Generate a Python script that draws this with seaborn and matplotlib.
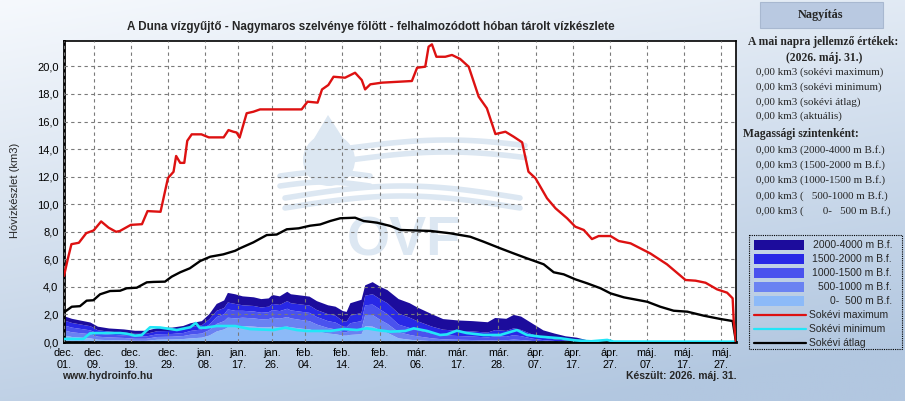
import numpy as np
import matplotlib
matplotlib.use('Agg')
import matplotlib.pyplot as plt
import matplotlib.patches as mpatches
import seaborn as sns

# --- data (days counted from Dec 01) ---
tick_days = [0, 8, 18, 28, 38, 47, 56, 65, 75, 85, 95, 106, 117, 127, 137, 147, 157, 167, 177]
tick_labels = ['dec.\n01.', 'dec.\n09.', 'dec.\n19.', 'dec.\n29.', 'jan.\n08.', 'jan.\n17.',
               'jan.\n26.', 'feb.\n04.', 'feb.\n14.', 'feb.\n24.', 'már.\n06.', 'már.\n17.',
               'már.\n28.', 'ápr.\n07.', 'ápr.\n17.', 'ápr.\n27.', 'máj.\n07.', 'máj.\n17.',
               'máj.\n27.']

max_days = [0, 1, 2, 4, 6, 8, 10, 12, 14, 15, 18, 21, 22.5, 26, 28, 29.5, 30.2, 31.3, 32.4,
            33.2, 34.4, 37, 39, 43, 44.3, 45.6, 46.5, 47.3, 49.2, 51, 52.8, 64, 65.6, 68.3,
            69.5, 71.2, 72.6, 75.7, 78.4, 80.2, 81.1, 82.5, 85.6, 93.7, 95.1, 97.3, 98.2, 99.1,
            100.3, 102.7, 104.5, 106.7, 109, 111.7, 113.9, 116.2, 118.9, 121.1, 123.4, 125.1,
            127, 130.1, 132.4, 135.5, 137.7, 140, 142.2, 144, 147.2, 149.4, 152.6, 157.9,
            162.4, 167.4, 170.1, 172.8, 175.9, 178.6, 180.1, 180.4, 181]
max_vals = [4.8, 6.0, 7.1, 7.2, 7.9, 8.1, 8.75, 8.3, 8.0, 8.05, 8.5, 8.55, 9.5, 9.45, 11.9,
            12.35, 13.5, 13.0, 13.0, 14.6, 15.07, 15.07, 14.85, 14.85, 15.38, 15.26, 15.2,
            14.83, 16.6, 16.71, 16.88, 16.88, 17.44, 17.37, 18.33, 18.65, 19.25, 19.18, 19.54,
            19.01, 18.33, 18.7, 18.82, 18.94, 19.9, 19.98, 21.43, 21.6, 20.7, 20.7, 20.83,
            20.54, 19.98, 17.8, 16.96, 15.09, 15.26, 14.9, 14.49, 12.36, 11.88, 10.43, 9.7,
            8.98, 8.37, 8.13, 7.47, 7.69, 7.69, 7.33, 7.16, 6.43, 5.64, 4.5, 4.45, 4.3, 3.82,
            3.58, 3.17, 1.47, 0.0]

avg_days = [0, 2.1, 4.3, 6.1, 7.9, 9.7, 12.4, 15.1, 16.9, 19.6, 22.3, 24.1, 27.2, 29, 31.3,
            33.9, 36.7, 39.4, 42.9, 46.1, 47.4, 51, 54.6, 57.3, 60, 63.2, 66.3, 69, 71.7, 74.4,
            78.4, 80.7, 84.3, 87.9, 90.6, 98.7, 104, 109.4, 113, 117.5, 121.1, 124.7, 129.2,
            131.9, 134.6, 137.7, 140.9, 144.5, 147.2, 150.8, 157.1, 160.6, 164.2, 167.9,
            172.3, 176.8, 180.1, 181]
avg_vals = [2.15, 2.56, 2.6, 3.0, 3.03, 3.46, 3.7, 3.72, 3.9, 3.94, 4.33, 4.36, 4.38, 4.74,
            5.06, 5.35, 5.88, 6.19, 6.36, 6.62, 6.8, 7.23, 7.76, 7.8, 8.18, 8.25, 8.44, 8.53,
            8.78, 8.98, 9.02, 8.78, 8.66, 8.42, 8.13, 8.06, 7.89, 7.64, 7.28, 6.8, 6.43, 6.07,
            5.64, 5.06, 4.91, 4.55, 4.26, 3.9, 3.53, 3.24, 2.92, 2.56, 2.27, 2.2, 1.91, 1.67,
            1.52, 0.0]

min_days = [0, 5.2, 7, 8.8, 15.1, 16.9, 19.1, 20.9, 23.2, 25.9, 30.4, 34, 35.5, 36.5, 38.2,
            41.1, 46.1, 50.1, 56.4, 59.6, 62.7, 65.4, 71.7, 75.3, 78.9, 81.6, 84.3, 87.9, 91.9,
            94.2, 97.8, 101.3, 103.1, 105.8, 108.5, 113, 117.5, 122, 124.7, 128.2, 133.7,
            137.7, 142, 146.3, 148, 181]
min_vals = [0.22, 0.22, 0.63, 0.65, 0.65, 0.6, 0.46, 0.5, 1.07, 1.05, 0.87, 1.07, 1.38, 1.04,
            1.04, 1.16, 1.16, 0.94, 0.87, 1.04, 0.87, 0.8, 0.8, 0.94, 0.87, 0.99, 0.87, 0.75,
            0.8, 0.99, 0.8, 0.51, 0.55, 0.82, 0.65, 0.51, 0.51, 0.87, 0.51, 0.39, 0.27, 0.12,
            0.05, 0.15, 0.03, 0.02]

# current season, by altitude band (km3)
area_days = [0, 2, 7, 9, 12, 16, 19, 22, 25, 29, 32, 34, 37, 39, 41, 43, 44, 46, 48, 51, 53,
             55, 56, 58, 60, 61, 64, 66, 68, 71, 73, 75, 76, 77, 80, 81, 83, 85, 87, 90, 93, 95,
             99, 102, 106, 110, 114, 116, 119, 121, 123, 126, 129, 132, 135, 138, 141, 145,
             150, 181]
band_0_500 = [0.5, 0.4, 0.3, 0.2, 0.17, 0.15, 0.12, 0.12, 0.2, 0.22, 0.25, 0.3, 0.35, 0.5,
              0.8, 0.95, 1.1, 1.1, 1.2, 1.15, 1.1, 1.1, 1.15, 1.1, 1.15, 1.1, 1.0, 0.95, 0.8,
              0.65, 0.6, 0.5, 0.5, 0.55, 0.6, 1.2, 1.15, 0.9, 0.7, 0.3, 0.2, 0.15, 0.1, 0.08,
              0.07, 0.06, 0.05, 0.05, 0.05, 0.06, 0.05, 0.03, 0.02, 0.01, 0.01, 0.0, 0.0, 0.0,
              0.0, 0.0]
band_500_1000 = [0.37, 0.34, 0.3, 0.22, 0.2, 0.18, 0.15, 0.15, 0.2, 0.2, 0.22, 0.27, 0.3, 0.4,
                 0.55, 0.6, 0.7, 0.65, 0.6, 0.6, 0.58, 0.6, 0.65, 0.63, 0.7, 0.65, 0.62, 0.6,
                 0.5, 0.4, 0.35, 0.25, 0.25, 0.35, 0.4, 0.8, 0.85, 0.75, 0.65, 0.45, 0.35, 0.3,
                 0.2, 0.15, 0.13, 0.12, 0.1, 0.12, 0.12, 0.15, 0.13, 0.08, 0.05, 0.03, 0.02,
                 0.01, 0.0, 0.0, 0.0, 0.0]
band_1000_1500 = [0.36, 0.34, 0.28, 0.22, 0.2, 0.18, 0.17, 0.17, 0.2, 0.2, 0.22, 0.27, 0.3,
                  0.4, 0.5, 0.5, 0.6, 0.55, 0.5, 0.5, 0.48, 0.5, 0.55, 0.55, 0.6, 0.58, 0.6,
                  0.6, 0.55, 0.5, 0.5, 0.4, 0.38, 0.5, 0.55, 0.7, 0.75, 0.75, 0.7, 0.55, 0.5,
                  0.45, 0.35, 0.3, 0.27, 0.25, 0.22, 0.28, 0.25, 0.32, 0.28, 0.17, 0.1, 0.07,
                  0.04, 0.03, 0.01, 0.0, 0.0, 0.0]
band_1500_2000 = [0.36, 0.34, 0.3, 0.25, 0.22, 0.2, 0.19, 0.19, 0.22, 0.22, 0.24, 0.28, 0.3,
                  0.38, 0.45, 0.45, 0.5, 0.5, 0.4, 0.4, 0.38, 0.4, 0.45, 0.45, 0.55, 0.52,
                  0.53, 0.53, 0.5, 0.5, 0.5, 0.4, 0.38, 0.55, 0.6, 0.7, 0.75, 0.75, 0.8, 0.8,
                  0.75, 0.65, 0.5, 0.4, 0.38, 0.37, 0.35, 0.45, 0.42, 0.5, 0.45, 0.3, 0.18,
                  0.12, 0.08, 0.06, 0.03, 0.01, 0.0, 0.0]
band_2000_4000 = [0.31, 0.3, 0.27, 0.26, 0.23, 0.24, 0.22, 0.22, 0.23, 0.24, 0.27, 0.28, 0.3,
                  0.37, 0.5, 0.55, 0.7, 0.7, 0.65, 0.63, 0.61, 0.6, 0.65, 0.62, 0.68, 0.65,
                  0.65, 0.65, 0.65, 0.65, 0.65, 0.73, 0.71, 0.9, 0.95, 0.75, 0.88, 0.9, 0.95,
                  1.05, 1.05, 1.0, 0.9, 0.77, 0.75, 0.75, 0.75, 0.88, 0.88, 0.97, 0.97, 0.8,
                  0.53, 0.42, 0.3, 0.25, 0.11, 0.04, 0.02, 0.0]

band_names = ['0-  500 m B.f.', '500-1000 m B.f.', '1000-1500 m B.f.', '1500-2000 m B.f.',
              '2000-4000 m B.f.']
band_colors = ['#8cbaf8', '#6a82f2', '#4a52ee', '#2828e6', '#1c0c9c']

W, H = 905, 401

sns.set_theme(style='white')
plt.rcParams['font.family'] = ['Liberation Sans', 'DejaVu Sans']

fig = plt.figure(figsize=(W / 100, H / 100), dpi=100)

# background gradient + watermark (pixel coordinates)
bg = fig.add_axes([0, 0, 1, 1], zorder=0)
bg.set_xlim(0, W)
bg.set_ylim(H, 0)
bg.axis('off')
yy, xx = np.mgrid[0:1:200j, 0:1:200j]
t = np.clip(0.8 * yy + 0.3 * xx, 0, 1)
c0 = np.array([246, 249, 253]) / 255
c1 = np.array([178, 199, 224]) / 255
grad = c0[None, None, :] * (1 - t[..., None]) + c1[None, None, :] * t[..., None]
bg.imshow(grad, extent=[0, W, H, 0], aspect='auto', zorder=0)
bg.add_patch(mpatches.Rectangle((64, 40.5), 672, 301.5, facecolor='white', edgecolor='none', zorder=1))

wm = '#dce7f2'
bg.add_patch(mpatches.Circle((329, 160), 26, facecolor=wm, edgecolor='none', zorder=2))
bg.add_patch(mpatches.Polygon([(328, 115), (306, 152), (352, 152)], closed=True,
                              facecolor=wm, edgecolor='none', zorder=2))
# upper waves (right of the drop), lower waves (under it)
wx1 = np.linspace(350, 525, 80)
for y0 in [148, 160]:
    bg.plot(wx1, y0 - 8 * np.sin((wx1 - 350) / 175 * np.pi * 0.9), color=wm, lw=4,
            solid_capstyle='round', zorder=2)
wx2 = np.linspace(280, 370, 40)
for y0 in [176, 186]:
    bg.plot(wx2, y0 - 4 * np.sin((wx2 - 280) / 90 * np.pi), color=wm, lw=4,
            solid_capstyle='round', zorder=2)
wx3 = np.linspace(285, 520, 90)
for y0 in [198, 208]:
    bg.plot(wx3, y0 - 12 * np.sin((wx3 - 285) / 235 * np.pi), color=wm, lw=4,
            solid_capstyle='round', zorder=2)
bg.text(404, 241, 'OVF', ha='center', va='center', fontsize=40, fontweight='bold', color=wm, zorder=3)

# main chart
ax = fig.add_axes([64 / W, (H - 342) / H, 672 / W, 301.5 / H], zorder=1)
ax.set_facecolor('none')

ax.stackplot(area_days, band_0_500, band_500_1000, band_1000_1500, band_1500_2000,
             band_2000_4000, colors=band_colors, linewidth=0, zorder=2)
sns.lineplot(x=min_days, y=min_vals, ax=ax, color='#22e6f8', lw=1.9, zorder=3)
sns.lineplot(x=avg_days, y=avg_vals, ax=ax, color='black', lw=1.7, zorder=4)
sns.lineplot(x=max_days, y=max_vals, ax=ax, color='#dd1111', lw=1.7, zorder=5)

ax.set_xlim(0, 181)
ax.set_ylim(0, 21.88)
ax.set_xticks(tick_days)
ax.set_xticklabels(tick_labels, fontsize=7.8, linespacing=1.3)
ax.set_yticks(np.arange(0, 21, 2))
ax.set_yticklabels([f'{v:.1f}'.replace('.', ',') for v in np.arange(0, 21, 2)], fontsize=8)
ax.tick_params(axis='both', direction='out', length=3, width=1, pad=1, colors='black',
               labelcolor='black')
ax.grid(True, color='#7a7a7a', linestyle=(0, (3, 3)), linewidth=0.8)
ax.set_axisbelow(False)
for side in ['left', 'bottom']:
    ax.spines[side].set_linewidth(2)
for side in ['top', 'right']:
    ax.spines[side].set_linewidth(1.2)
for s in ax.spines.values():
    s.set_color('black')
ax.set_xlabel('')
ax.set_ylabel('')

fig.text(371 / W, 1 - 27 / H, 'A Duna vízgyűjtő - Nagymaros szelvénye fölött - felhalmozódott hóban tárolt vízkészlete',
         ha='center', va='center', fontsize=8.4, fontweight='bold')
fig.text(15 / W, 1 - 190 / H, 'Hóvízkészlet (km3)', rotation=90, ha='center', va='center', fontsize=8)
fig.text(62 / W, 1 - 376 / H, 'www.hydroinfo.hu', ha='left', va='center', fontsize=7.5, fontweight='bold')
fig.text(737 / W, 1 - 376 / H, 'Készült: 2026. máj. 31.', ha='right', va='center', fontsize=7.5,
         fontweight='bold')

# right panel
ov = fig.add_axes([0, 0, 1, 1], zorder=2)
ov.set_xlim(0, W)
ov.set_ylim(H, 0)
ov.axis('off')
ov.patch.set_alpha(0)

ov.add_patch(mpatches.Rectangle((760, 2), 123, 26, facecolor='#b9c9e1', edgecolor='#a8b8d0', lw=0.8))
serif = ['Liberation Serif', 'DejaVu Serif']
ov.text(821, 15, 'Nagyítás', ha='center', va='center', fontsize=8.8, fontweight='bold', family=serif)
ov.text(823, 42, 'A mai napra jellemző értékek:', ha='center', va='center', fontsize=8.4,
        fontweight='bold', family=serif)
ov.text(824, 57.5, '(2026. máj. 31.)', ha='center', va='center', fontsize=8.4, fontweight='bold', family=serif)
rows1 = ['0,00 km3 (sokévi maximum)', '0,00 km3 (sokévi minimum)', '0,00 km3 (sokévi átlag)',
         '0,00 km3 (aktuális)']
for i, r in enumerate(rows1):
    ov.text(756, 72.5 + i * 14.7, r, ha='left', va='center', fontsize=7.9, family=serif)
ov.text(743, 134, 'Magassági szintenként:', ha='left', va='center', fontsize=8.4, fontweight='bold', family=serif)
rows2 = ['0,00 km3 (2000-4000 m B.f.)', '0,00 km3 (1500-2000 m B.f.)', '0,00 km3 (1000-1500 m B.f.)',
         '0,00 km3 (   500-1000 m B.f.)', '0,00 km3 (       0-   500 m B.f.)']
for i, r in enumerate(rows2):
    ov.text(756, 150 + i * 15.2, r, ha='left', va='center', fontsize=7.9, family=serif)

# legend box
ov.add_patch(mpatches.Rectangle((749, 235), 153, 114, facecolor='none', edgecolor='black',
                                lw=0.8, linestyle=(0, (1, 1))))
leg_y = [245, 259, 273, 287, 301]
for i, (name, col) in enumerate(zip(band_names[::-1], band_colors[::-1])):
    ov.add_patch(mpatches.Rectangle((754, leg_y[i] - 5), 50, 10, facecolor=col, edgecolor='none'))
    ov.text(892, leg_y[i], name, ha='right', va='center', fontsize=7.5)
for i, (name, col) in enumerate([('Sokévi maximum', '#dd1111'), ('Sokévi minimum', '#22e6f8'),
                                 ('Sokévi átlag', 'black')]):
    y = 315 + i * 14
    ov.plot([754, 806], [y, y], color=col, lw=1.6)
    ov.text(809, y, name, ha='left', va='center', fontsize=7.5)

fig.savefig('out.png', dpi=100)
